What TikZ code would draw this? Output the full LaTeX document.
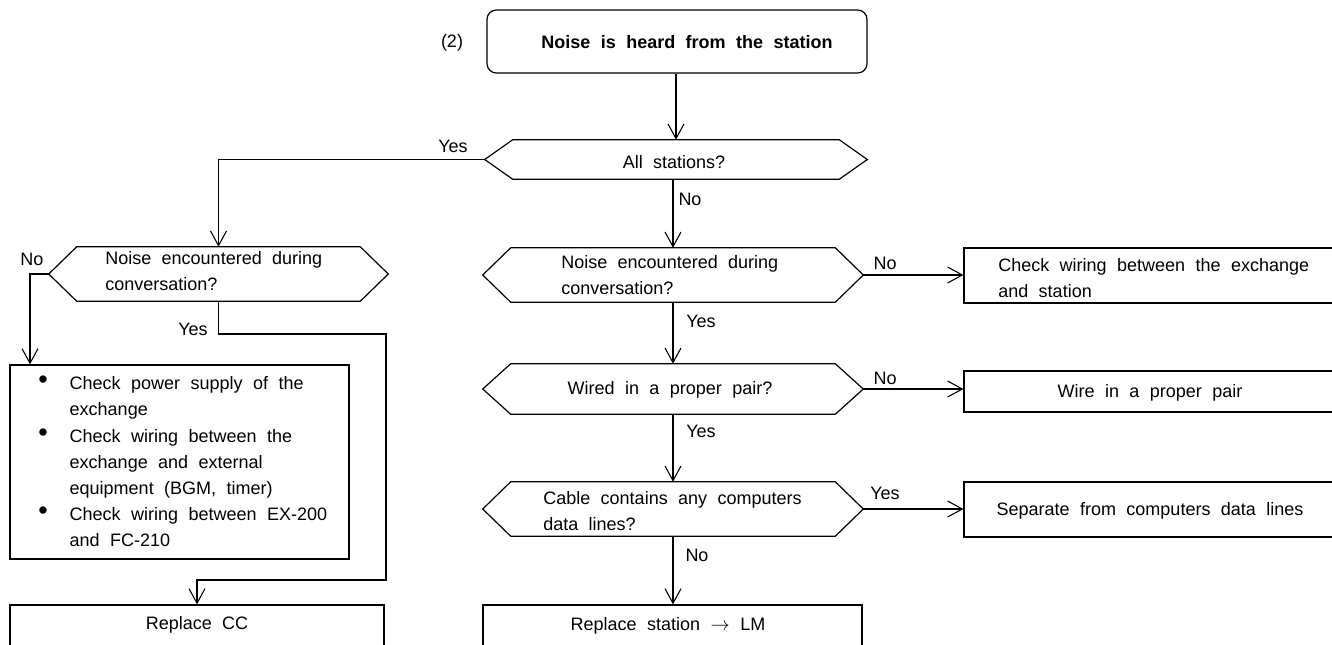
\documentclass[tikz,border=0pt]{standalone}
\usepackage{fontspec}
\setmainfont{Liberation Sans}
\usetikzlibrary{arrows.meta,fit}
\newcommand\hexpath[1]{\draw[line width=0.9pt] (#1.west) -- ([xshift=21pt]#1.north west) -- ([xshift=-21pt]#1.north east) -- (#1.east) -- ([xshift=-21pt]#1.south east) -- ([xshift=21pt]#1.south west) -- cycle;}
\newcommand\chartfont{\fontsize{13.5pt}{19.6pt}\selectfont\spaceskip=0.58em\relax}
\newcommand\bul{\raisebox{0.1ex}{\scalebox{1.5}{\textbullet}}}
\begin{document}
\begin{tikzpicture}[x=0.75pt,y=-0.75pt,
  arr/.style={line width=0.8pt,-{Straight Barb[length=11pt,width=12pt,line width=0.8pt]}},
  txt/.style={font=\chartfont, inner sep=0pt},
  box/.style={draw, line width=0.9pt, inner sep=0pt},
  hexnode/.style={inner sep=0pt},
  lbl/.style={txt}
]
\useasboundingbox (0,0) rectangle (1332,644);
\clip (0,0) rectangle (1332,644);

% start box
\node[box, rounded corners=7pt, fit={(487,10) (867,73)}] (top) {};
\node[txt] (topt) at (687,42) {\bfseries Noise is heard from the station};
\node[lbl] (num) at (452,43) {(2)};

% decisions
\node[hexnode, fit={(485,140) (867,179)}] (d0) {};
\hexpath{d0}
\node[txt] (d0t) at (674,162) {All stations?};
\node[hexnode, fit={(49,247) (388,301)}] (d1) {};
\hexpath{d1}
\node[txt, anchor=west, align=left] (d1t) at (105,271) {Noise encountered during\\conversation?};
\node[hexnode, fit={(483,248) (863,302)}] (d2) {};
\hexpath{d2}
\node[txt, anchor=west, align=left] (d2t) at (561,275) {Noise encountered during\\conversation?};
\node[hexnode, fit={(483,364) (863,414)}] (d3) {};
\hexpath{d3}
\node[txt] (d3t) at (670,390) {Wired in a proper pair?};
\node[hexnode, fit={(483,482) (863,536)}] (d4) {};
\hexpath{d4}
\node[txt, anchor=west, align=left] (d4t) at (543,511) {Cable contains any computers\\data lines?};

% process boxes
\node[box, fit={(10,365) (349,559)}] (list) {};
\node[txt, anchor=west] (listtxt) at (38,463) {\begin{tabular}{@{}l@{\hspace{16.5pt}}l@{}}
\bul & Check power supply of the\\
 & exchange\\
\bul & Check wiring between the\\
 & exchange and external\\
 & equipment (BGM, timer)\\
\bul & Check wiring between EX-200\\
 & and FC-210
\end{tabular}};
\node[box, fit={(10,605) (384,648)}] (cc) {};
\node[txt] (cct) at (197,625) {Replace CC};
\node[box, fit={(483,605) (862,648)}] (rs) {};
\node[txt] (rst) at (668,626) {Replace station $\rightarrow$ LM};
\node[box, fit={(964,248) (1336,303)}] (cw) {};
\node[txt, anchor=west, align=left] (cwt) at (998,278) {Check wiring between the exchange\\and station};
\node[box, fit={(964,371) (1336,412)}] (wp) {};
\node[txt] (wpt) at (1150,393) {Wire in a proper pair};
\node[box, fit={(964,482) (1336,537)}] (sep) {};
\node[txt] (sept) at (1150,511) {Separate from computers data lines};

% connectors
\draw[arr] (top.south -| d0.north) -- (d0.north);
\draw[arr] (d0.west) -| (d1.north);
\draw[arr] (d0.south -| d2.north) -- (d2.north);
\coordinate (c1) at (30,274);
\draw[arr] (d1.west) -- (c1) -- (c1 |- list.north);
\coordinate (c2) at (386,334);
\coordinate (c3) at (386,580);
\draw[arr] (d1.south) |- (c2) -- (c3) -| (cc.north);
\draw[arr] (d2.south) -- (d3.north);
\draw[arr] (d3.south) -- (d4.north);
\draw[arr] (d4.south) -- (d4.south |- rs.north);
\draw[arr] (d2.east) -- (d2.east -| cw.west);
\draw[arr] (d3.east) -- (d3.east -| wp.west);
\draw[arr] (d4.east) -- (d4.east -| sep.west);

% labels
\node[lbl] (l0y) at (453,146) {Yes};
\node[lbl] (l0n) at (690,199) {No};
\node[lbl] (l1n) at (32,259) {No};
\node[lbl] (l1y) at (193,329) {Yes};
\node[lbl] (l2n) at (885,263) {No};
\node[lbl] (l2y) at (701,321) {Yes};
\node[lbl] (l3n) at (885,378) {No};
\node[lbl] (l3y) at (701,431) {Yes};
\node[lbl] (l4y) at (885,493) {Yes};
\node[lbl] (l4n) at (697,555) {No};
\end{tikzpicture}
\end{document}
